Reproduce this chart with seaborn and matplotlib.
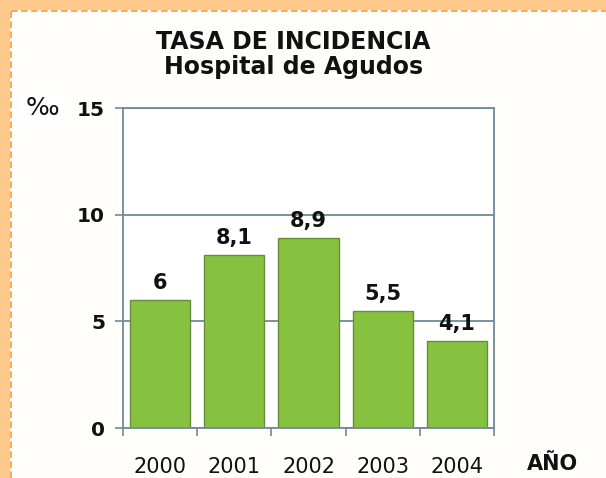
import numpy as np
import pandas as pd
import seaborn as sns
import matplotlib.pyplot as plt
from matplotlib.patches import Rectangle
from matplotlib.lines import Line2D

# -----------------------------
# Data
# -----------------------------
years = ['2000', '2001', '2002', '2003', '2004']
rates = [6.0, 8.1, 8.9, 5.5, 4.1]
rate_labels = ['6', '8,1', '8,9', '5,5', '4,1']
y_ticks = [0, 5, 10, 15]

df = pd.DataFrame({'year': years, 'rate': rates})

# -----------------------------
# Styling
# -----------------------------
sns.set_style("white")
plt.rcParams['font.family'] = ['DejaVu Sans']

bar_color = '#86c240'
edge_color = '#6a8a3c'
axis_color = '#6f8a9a'
bg_color = '#fffefa'
band_color = '#fec98a'
dash_color = '#f5a02a'
text_color = '#111111'

fig = plt.figure(figsize=(6.06, 4.78), dpi=100, facecolor=bg_color)

# orange frame: top and left bands with dashed inner border
fig.patches.append(Rectangle((0, 1 - 10 / 478), 1, 10 / 478, transform=fig.transFigure,
                             facecolor=band_color, edgecolor='none', zorder=0))
fig.patches.append(Rectangle((0, 0), 10 / 606, 1, transform=fig.transFigure,
                             facecolor=band_color, edgecolor='none', zorder=0))
fig.lines.append(Line2D([11 / 606, 1], [1 - 11 / 478, 1 - 11 / 478], transform=fig.transFigure,
                        color=dash_color, lw=1.2, ls=(0, (4, 2))))
fig.lines.append(Line2D([11 / 606, 11 / 606], [0, 1 - 11 / 478], transform=fig.transFigure,
                        color=dash_color, lw=1.2, ls=(0, (4, 2))))

ax = fig.add_axes([123 / 606, 1 - 428 / 478, 371 / 606, 320 / 478])
ax.set_facecolor('white')

sns.barplot(data=df, x='year', y='rate', color=bar_color, width=0.81,
            edgecolor=edge_color, linewidth=1, saturation=1, ax=ax)

ax.bar_label(ax.containers[0], labels=rate_labels, padding=5,
             fontsize=15, fontweight='bold', color=text_color)

ax.set_ylim(0, 15)
ax.set_xlim(-0.5, len(years) - 0.5)
ax.set_yticks(y_ticks)
ax.set_yticklabels([str(t) for t in y_ticks], fontsize=14.5, fontweight='bold', color=text_color)
ax.tick_params(axis='y', left=True, direction='out', length=6, width=1.2, color=axis_color, pad=7)

# year labels at centers, tick marks at category boundaries
ax.set_xticks(range(len(years)))
ax.set_xticklabels(years, fontsize=15, color=text_color)
ax.tick_params(axis='x', which='major', bottom=True, length=0, pad=21)
ax.set_xticks(np.arange(-0.5, len(years), 1), minor=True)
ax.tick_params(axis='x', which='minor', bottom=True, direction='out', length=6, width=1.2,
               color=axis_color)

ax.set_xlabel('')
ax.set_ylabel('')
ax.set_axisbelow(True)
ax.yaxis.grid(True, color=axis_color, linewidth=1.3)
for side in ['left', 'right', 'top', 'bottom']:
    ax.spines[side].set_visible(True)
    ax.spines[side].set_color(axis_color)
    ax.spines[side].set_linewidth(1.3)

fig.text(0.484, 1 - 30 / 478, "TASA DE INCIDENCIA\nHospital de Agudos", ha='center', va='top',
         fontsize=17, fontweight='bold', color=text_color, linespacing=1.05)
fig.text(42 / 606, 1 - 108 / 478, '‰', ha='center', va='center', fontsize=18, color=text_color,
         bbox=dict(facecolor='white', edgecolor='none', pad=2))
fig.text(552 / 606, 1 - 464 / 478, 'AÑO', ha='center', va='center', fontsize=15,
         fontweight='bold', color=text_color)

plt.savefig('out.png', dpi=100, facecolor=bg_color)
plt.close()
